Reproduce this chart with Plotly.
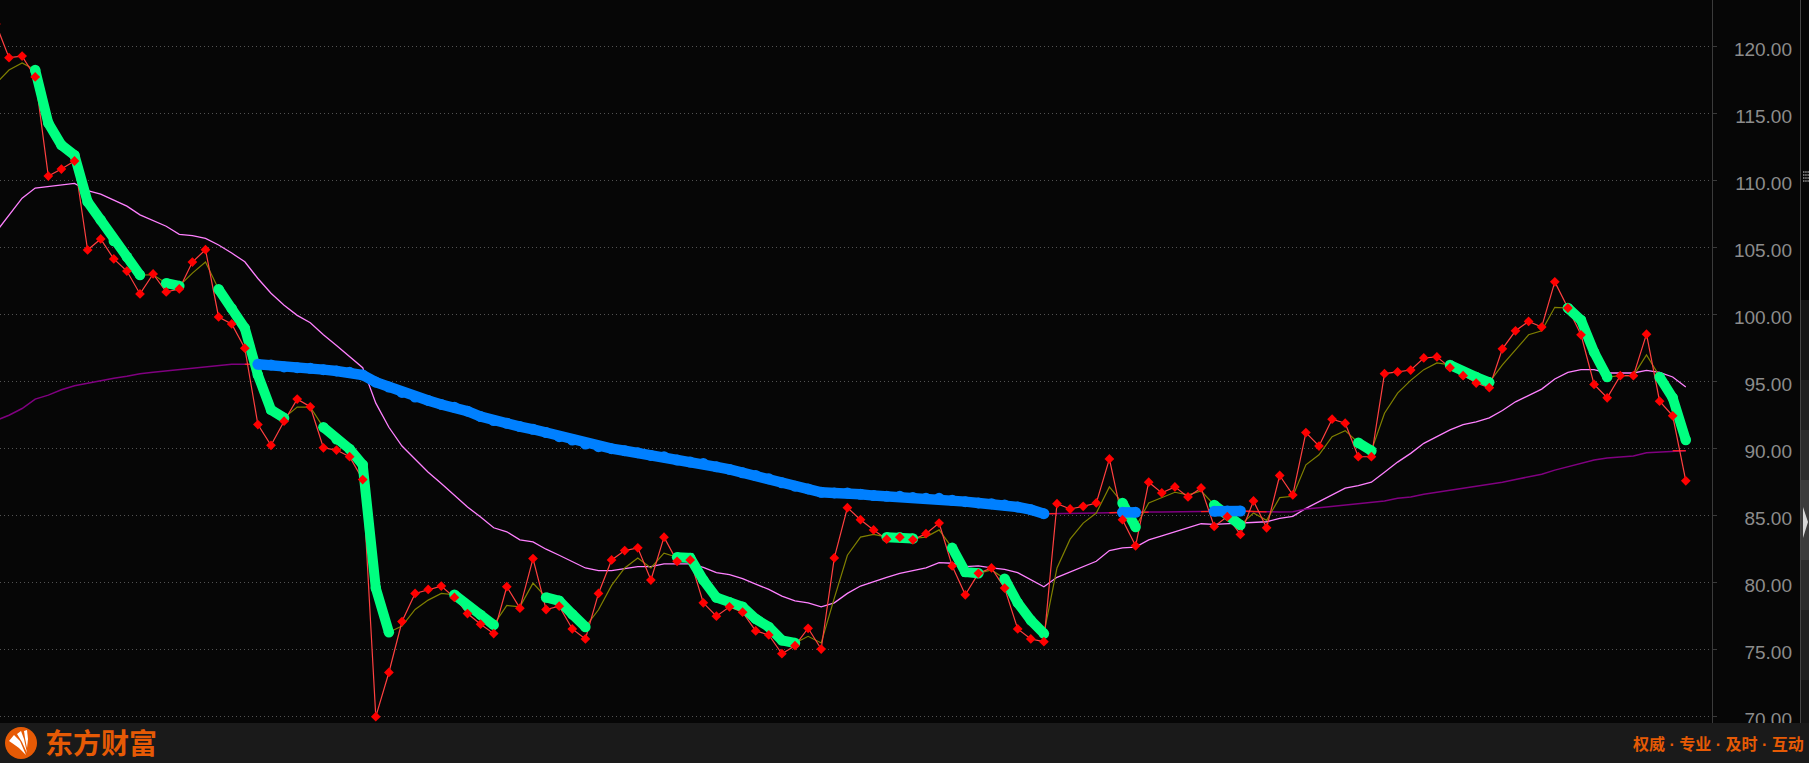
import plotly.graph_objects as go

W, H = 1809, 763
bars = list(range(-1, 129))
close = [121.7,
 119.18,119.3,117.74,110.35,110.87,111.47,104.83,105.65,104.16,103.26,
 101.55,103.04,101.7,101.92,103.93,104.85,99.83,99.31,97.5,91.8,
 90.25,92.05,93.7,93.13,90.07,89.9,89.4,87.7,70.0,73.3,
 77.1,79.2,79.5,79.75,78.9,77.7,76.9,76.2,79.7,78.1,
 81.8,78.0,78.25,76.55,75.8,79.2,81.7,82.4,82.6,80.2,
 83.4,81.6,81.7,78.5,77.5,78.2,77.8,76.4,76.1,74.7,
 75.3,76.6,75.05,81.85,85.6,84.7,83.94,83.25,83.4,83.2,
 83.66,84.45,81.25,79.1,80.7,81.1,79.6,76.55,75.8,75.6,
 85.9,85.5,85.7,85.95,89.24,84.7,82.75,87.5,86.7,87.15,
 86.4,87.07,84.2,84.93,83.6,86.1,84.1,88.0,86.55,91.2,
 90.2,92.2,91.9,89.4,89.4,95.6,95.73,95.87,96.77,96.85,
 96.05,95.45,94.9,94.55,97.45,98.8,99.5,99.08,102.45,100.5,
 98.5,94.8,93.8,95.45,95.45,98.55,93.55,92.45,87.6]
ma_short = [117.25,
 118.26,118.78,118.26,114.3,112.66,111.9,108.43,107.07,105.5,104.3,
 102.96,102.98,102.35,102.15,103.1,103.93,101.9,100.47,99.0,95.5,
 92.9,92.3,93.1,93.1,91.6,90.7,89.98,88.8,79.6,76.3,
 76.76,78.0,78.7,79.2,79.1,78.25,77.6,76.85,78.3,78.2,
 79.97,78.9,78.65,77.65,76.7,77.98,79.8,81.1,81.85,81.1,
 82.2,81.9,81.85,80.2,78.9,78.55,78.2,77.3,76.7,75.7,
 75.5,76.0,75.5,78.85,82.05,83.4,83.6,83.4,83.4,83.3,
 83.4,83.94,82.6,80.8,80.7,80.95,80.3,78.5,77.2,76.2,
 81.1,83.25,84.45,85.2,87.15,85.95,84.15,85.95,86.35,86.75,
 86.55,86.85,85.8,85.1,84.3,85.2,84.65,86.35,86.45,88.8,
 89.55,90.9,91.35,90.45,89.85,92.65,94.15,95.1,95.9,96.4,
 96.25,95.73,95.35,94.95,96.25,97.35,98.5,98.8,100.55,100.5,
 99.6,97.2,95.35,95.45,95.45,97.0,95.35,93.8,90.65]
ma_mid = [106.15,
 107.4,108.7,109.45,109.55,109.65,109.8,109.25,109.0,108.55,108.1,
 107.45,107.05,106.6,106.0,105.9,105.7,105.2,104.6,103.95,102.7,
 101.6,100.7,99.95,99.4,98.5,97.7,96.85,96.05,93.4,91.6,
 90.2,89.2,88.25,87.4,86.55,85.65,84.9,84.1,83.8,83.2,
 83.05,82.5,82.05,81.6,81.1,80.9,80.9,81.05,81.2,81.2,
 81.4,81.4,81.4,81.15,80.75,80.6,80.3,79.9,79.5,79.0,
 78.65,78.5,78.2,78.5,79.2,79.75,80.1,80.4,80.7,80.9,
 81.1,81.5,81.45,81.2,81.25,81.1,81.0,80.75,80.2,79.7,
 80.4,80.8,81.2,81.6,82.4,82.6,82.65,83.2,83.5,83.8,
 84.05,84.4,84.35,84.4,84.45,84.45,84.55,84.8,84.95,85.55,
 86.05,86.6,87.05,87.25,87.5,88.25,89.0,89.65,90.4,90.9,
 91.4,91.8,92.0,92.3,92.85,93.5,94.0,94.45,95.2,95.7,
 95.9,95.9,95.65,95.65,95.65,95.85,95.7,95.35,94.6]
ma_long = [92.1,
 92.5,93.0,93.7,94.0,94.4,94.7,94.9,95.05,95.25,95.4,
 95.6,95.7,95.8,95.9,96.0,96.15,96.25,96.3,96.3,96.3,
 96.25,96.1,96.05,96.0,95.9,95.8,95.7,95.5,94.97,94.6,
 94.2,93.85,93.6,93.3,93.1,92.8,92.4,92.1,91.9,91.65,
 91.45,91.2,90.9,90.65,90.35,90.15,90.0,89.85,89.7,89.5,
 89.4,89.15,89.0,88.9,88.65,88.45,88.2,88.0,87.75,87.45,
 87.2,87.0,86.75,86.7,86.7,86.6,86.5,86.45,86.45,86.35,
 86.3,86.3,86.15,86.05,85.95,85.9,85.8,85.65,85.45,85.15,
 85.15,85.17,85.18,85.2,85.22,85.25,85.25,85.27,85.28,85.3,
 85.3,85.3,85.33,85.35,85.35,85.3,85.28,85.28,85.3,85.5,
 85.6,85.7,85.85,85.9,86.0,86.1,86.3,86.4,86.6,86.75,
 86.9,87.05,87.15,87.3,87.5,87.7,87.9,88.1,88.4,88.65,
 88.95,89.15,89.3,89.35,89.45,89.7,89.75,89.85,89.85]
green_runs = [(2,10),(12,13),(16,21),(24,29),(34,37),(41,44),(51,60),(67,69),(72,74),
              (76,79),(85,86),(92,94),(103,104),(110,113),(119,122),(126,128)]
blue_runs = [(19,79),(85,86),(92,94)]
red_runs = [(18,19),(79,80),(84,85),(86,87),(91,92),(94,96),(127,128)]
tick_vals = [70,75,80,85,90,95,100,105,110,115,120]
tick_text = ["70.00","75.00","80.00","85.00","90.00","95.00","100.00","105.00","110.00","115.00","120.00"]
brand = "东方财富"
slogan = "权威 · 专业 · 及时 · 互动"

assert len(bars)==len(close)==len(ma_short)==len(ma_mid)==len(ma_long)

def split(vals, spans):
    xs, ys = [], []
    for a, b in spans:
        for i in range(a, b+1):
            xs.append(i); ys.append(vals[i+1])
        xs.append(None); ys.append(None)
    return xs, ys

BG = "#060606"; FOOT = "#1a1a1a"; ORANGE = "#e65a05"
PX = 13.1; X0 = 9.0; AX = 1712
PY = 13.4; Y120 = 46.7; FB = 723
LABEL_DROP = 2.2 / PY   # tick labels sit 2px under their gridlines in the original

fig = go.Figure()
def line(y, color, width, x=bars):
    fig.add_trace(go.Scatter(x=x, y=y, mode="lines", line=dict(color=color, width=width),
                             hoverinfo="skip", showlegend=False, connectgaps=False))

line(ma_mid, "#ff80ff", 1.3)
line(ma_long, "#800080", 1.5)
xr, yr = split(ma_long, red_runs)
line(yr, "#ff2020", 1.3, x=xr)
line(ma_short, "#808000", 1.2)
line(close, "#ff4040", 1.2)

for spans, color, vals, w in ((green_runs, "#00ff80", ma_short, 10), (blue_runs, "#0080ff", ma_long, 10.5)):
    xs, ys = split(vals, spans)
    fig.add_trace(go.Scatter(x=xs, y=ys, mode="lines+markers",
                             line=dict(color=color, width=w),
                             marker=dict(color=color, size=w+0.5, symbol="circle"),
                             hoverinfo="skip", showlegend=False))

fig.add_trace(go.Scatter(x=bars, y=close, mode="markers",
                         marker=dict(color="#ff0000", size=7.5, symbol="diamond"),
                         hoverinfo="skip", showlegend=False))
fig.add_trace(go.Scatter(x=[bars[0]], y=[close[0]], yaxis="y2", mode="none",
                         hoverinfo="skip", showlegend=False))

def px(x, y):
    return f"{x/W:.5f},{1-y/H:.5f}"
def poly(pts):
    return "M" + " L".join(px(x, y) for x, y in pts) + " Z"

shapes = [
    dict(type="rect", xref="paper", yref="paper", x0=0, x1=1, y0=0, y1=(H-FB)/H,
         fillcolor=FOOT, line_width=0, layer="above"),
]
for y0, y1, c in ((300,380,"#141414"),(380,430,"#202020"),(430,480,"#2c2c2c"),(480,560,"#3c3c3c"),
                  (560,610,"#2c2c2c"),(610,680,"#202020"),(680,723,"#141414")):
    shapes.append(dict(type="rect", xref="paper", yref="paper", x0=1801/W, x1=1, y0=1-y1/H, y1=1-y0/H,
                       fillcolor=c, line_width=0, layer="above"))
shapes += [
    dict(type="line", xref="paper", yref="paper", x0=1800.5/W, x1=1800.5/W, y0=(H-FB)/H, y1=1,
         line=dict(color="#444444", width=1), layer="above"),
    dict(type="circle", xref="paper", yref="paper", x0=5/W, x1=37/W, y0=1-759/H, y1=1-727/H,
         fillcolor=ORANGE, line_width=0, layer="above"),
    dict(type="path", xref="paper", yref="paper", layer="above", fillcolor="#ffffff", line_width=0,
         path=poly([(26,755),(19,748),(12,743),(9,741),(14,735),(20,741)])),
    dict(type="path", xref="paper", yref="paper", layer="above", fillcolor="#ffffff", line_width=0,
         path=poly([(27,753),(22,742),(17,734),(21,731),(24,739)])),
    dict(type="path", xref="paper", yref="paper", layer="above", fillcolor="#ffffff", line_width=0,
         path=poly([(27,748),(25,738),(24,731),(27,730),(28,739)])),
    dict(type="path", xref="paper", yref="paper", layer="above", fillcolor="#d8d8d8", line_width=0,
         path=poly([(1803,507),(1808,522),(1803,538)])),
    dict(type="path", xref="paper", yref="paper", layer="above", fillcolor="#707070", line_width=0,
         path=" ".join(poly([(x,y),(x+1.5,y),(x+1.5,y+2),(x,y+2)])
                       for x in (1803,1805.2,1807.4) for y in (171,174,177,180))),
]

ann = [
    dict(text=f"<b>{brand}</b>", x=43/W, y=1-742/H, xref="paper", yref="paper", xanchor="left", yanchor="middle",
         showarrow=False, font=dict(family="Noto Sans CJK SC", size=28, color=ORANGE)),
    dict(text=f"<b>{slogan}</b>", x=1806/W, y=1-743.5/H, xref="paper", yref="paper", xanchor="right", yanchor="middle",
         showarrow=False, font=dict(family="Liberation Sans, Noto Sans CJK SC", size=16, color=ORANGE)),
]

y_lo, y_hi = 120-(FB-Y120)/PY, 120+Y120/PY
fig.update_layout(
    width=W, height=H, autosize=False,
    margin=dict(l=0, r=0, t=0, b=0, autoexpand=False),
    paper_bgcolor=BG, plot_bgcolor=BG,
    xaxis=dict(domain=[0, AX/W], range=[-X0/PX, (AX-X0)/PX], visible=False),
    yaxis=dict(domain=[(H-FB)/H, 1], range=[y_lo, y_hi], anchor="x", side="right",
               tickmode="array", tickvals=tick_vals, ticks="outside", ticklen=4, tickcolor="#3a3a3a",
               tickwidth=1, showticklabels=False,
               showgrid=True, gridcolor="#525252", gridwidth=1, griddash="1px,3px",
               zeroline=False, showline=True, linecolor="#3a3a3a", linewidth=1),
    yaxis2=dict(domain=[(H-FB)/H, 1], range=[y_lo+LABEL_DROP, y_hi+LABEL_DROP], overlaying="y",
                anchor="free", position=1792/W, side="left", tickmode="array",
                tickvals=tick_vals, ticktext=tick_text, ticks="", showgrid=False,
                zeroline=False, showline=False,
                tickfont=dict(family="Liberation Sans", size=19, color="#8c8c8c")),
    shapes=shapes, annotations=ann,
)
fig.write_html("out.html", config=dict(displayModeBar=False),
               post_script="document.body.style.margin='0';document.body.style.background='#060606';document.documentElement.style.overflow='hidden';")
